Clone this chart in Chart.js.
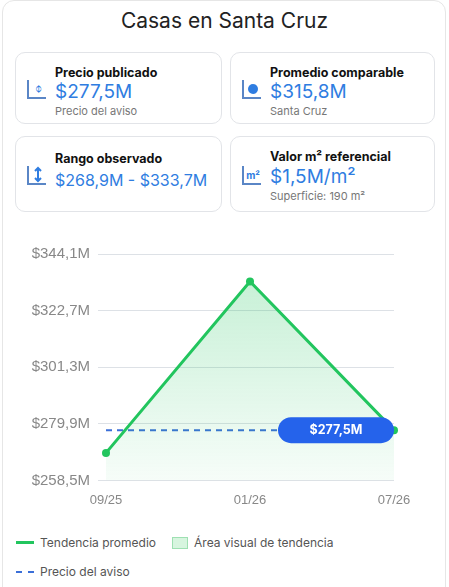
<!DOCTYPE html><html><head><meta charset="utf-8">
<script src="https://cdn.jsdelivr.net/npm/chart.js@4"></script>
<style>
body{margin:0;width:449px;height:587px;font-family:Inter,"Noto Sans",sans-serif;background:#fff;position:relative;overflow:hidden}
.frame{position:absolute;left:2px;top:0;width:442px;height:600px;border:1px solid #e6e6e6;border-radius:12px}
h1{position:absolute;top:8px;left:0;width:449px;text-align:center;margin:0;font-weight:400;font-size:21px;color:#222}
.card{position:absolute;border:1px solid #e2e4e8;border-radius:10px;background:#fff}
.card .t{position:absolute;left:39px;top:12px;font-weight:700;font-size:12.5px;color:#111}
.card .v{position:absolute;left:39px;top:27px;font-size:19px;color:#2f7de1}
.card .s{position:absolute;left:39px;top:51px;font-size:11px;color:#777}
.ic{position:absolute;left:9px;top:24px;width:24px;height:24px}
.leg{position:absolute;font-size:12px;color:#555;display:flex;align-items:center}
#c{position:absolute;left:0;top:236px}
</style></head><body>
<div class="frame"></div>
<h1>Casas en Santa Cruz</h1>
<div class="card" style="left:15px;top:52px;width:205px;height:70px"><svg class="ic" viewBox="0 0 24 24"><path d="M3 3v18h18" stroke="#5a86c6" stroke-width="2" fill="none"/><text x="13" y="16" font-size="12" fill="#2f7de1" text-anchor="middle">⌽</text></svg><div class="t">Precio publicado</div><div class="v">$277,5M</div><div class="s">Precio del aviso</div></div>
<div class="card" style="left:230px;top:52px;width:203px;height:70px"><svg class="ic" viewBox="0 0 24 24"><path d="M3 3v18h18" stroke="#5a86c6" stroke-width="2" fill="none"/><circle cx="13" cy="12" r="5" fill="#2f7de1"/></svg><div class="t">Promedio comparable</div><div class="v">$315,8M</div><div class="s">Santa Cruz</div></div>
<div class="card" style="left:15px;top:136px;width:205px;height:74px"><svg class="ic" viewBox="0 0 24 24" style="top:26px"><path d="M3 3v18h18" stroke="#5a86c6" stroke-width="2" fill="none"/><path d="M13 5v13M10 8l3-3 3 3M10 15l3 3 3-3" stroke="#2f7de1" stroke-width="2" fill="none"/></svg><div class="t" style="top:14px">Rango observado</div><div class="v" style="top:33px;font-size:16px">$268,9M - $333,7M</div></div>
<div class="card" style="left:230px;top:136px;width:203px;height:74px"><svg class="ic" viewBox="0 0 24 24" style="top:26px"><path d="M3 3v18h18" stroke="#5a86c6" stroke-width="2" fill="none"/><text x="13" y="16" font-size="10" font-weight="700" fill="#2f7de1" text-anchor="middle">m²</text></svg><div class="t">Valor m² referencial</div><div class="v" style="top:28px">$1,5M/m²</div><div class="s" style="top:52px">Superficie: 190 m²</div></div>
<canvas id="c" width="449" height="280" style="width:449px;height:280px"></canvas>
<div class="leg" style="left:16px;top:535px"><span style="display:inline-block;width:18px;height:3px;background:#22c55e;margin-right:6px"></span>Tendencia promedio<span style="display:inline-block;width:14px;height:10px;background:#d7f5df;border:1px solid #9ee0b2;margin:0 6px 0 16px"></span>Área visual de tendencia</div>
<div class="leg" style="left:16px;top:564px"><span style="display:inline-block;width:18px;border-top:2px dashed #3b6fd8;margin-right:6px"></span>Precio del aviso</div>
<script>
const labels=["09/25","01/26","07/26"];
const trend=[268.9,333.7,277.5];
const listPrice=277.5;
const ticks=[258.5,279.9,301.3,322.7,344.1];
const fmt=v=>"$"+v.toFixed(1).replace(".",",")+"M";
const pill={id:"pill",afterDatasetsDraw(ch){const {ctx,scales:{y},chartArea:a}=ch;const py=y.getPixelForValue(listPrice);const w=116,h=26,x=a.right-w;ctx.save();ctx.fillStyle="#2563eb";ctx.beginPath();ctx.roundRect(x,py-h/2,w,h,13);ctx.fill();ctx.fillStyle="#fff";ctx.font="bold 12.5px Inter";ctx.textAlign="center";ctx.textBaseline="middle";ctx.fillText(fmt(listPrice),x+w/2,py);ctx.restore();}};
new Chart(document.getElementById("c"),{type:"line",data:{labels,datasets:[
{data:trend,borderColor:"#22c55e",borderWidth:3,pointRadius:4,pointBackgroundColor:"#22c55e",pointBorderWidth:0,fill:"origin",tension:0,
backgroundColor:(c)=>{const a=c.chart.chartArea;if(!a)return"#dff5e6";const g=c.chart.ctx.createLinearGradient(0,a.top,0,a.bottom);g.addColorStop(0,"rgba(34,197,94,0.28)");g.addColorStop(1,"rgba(34,197,94,0.04)");return g;}},
{data:labels.map(()=>listPrice),borderColor:"#3b6fd8",borderWidth:2,borderDash:[6,5],pointRadius:0,fill:false}
]},options:{responsive:false,animation:false,layout:{padding:{left:0,right:55,top:18,bottom:4}},plugins:{legend:{display:false},tooltip:{enabled:false}},
scales:{x:{grid:{display:false},border:{display:false},offset:false,ticks:{color:"#888",font:{size:13},padding:4}},
y:{min:258.5,max:344.1,afterBuildTicks(s){s.ticks=ticks.map(v=>({value:v}));},afterFit(s){s.width=106;},border:{display:false},grid:{color:"#dde1e6"},ticks:{color:"#888",font:{size:15},padding:8,callback:v=>fmt(v)}}}},plugins:[pill]});
</script></body></html>
